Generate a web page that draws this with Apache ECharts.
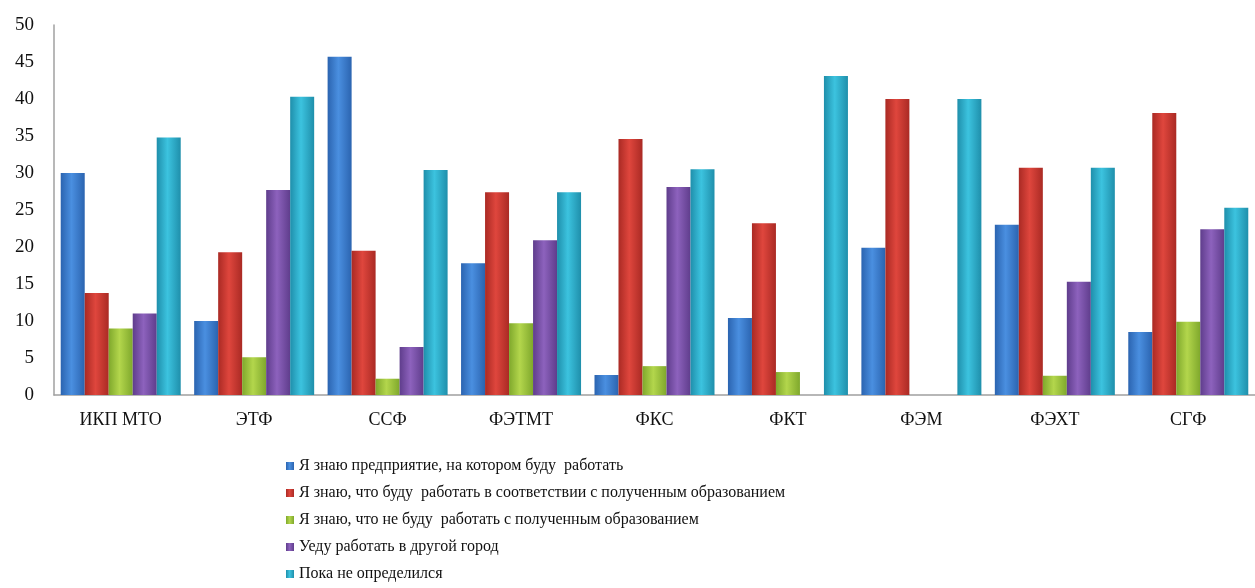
<!DOCTYPE html>
<html>
<head>
<meta charset="utf-8">
<script src="https://cdn.jsdelivr.net/npm/echarts@6/dist/echarts.min.js"></script>
<style>
  html, body { margin: 0; padding: 0; background: #fff; }
</style>
</head>
<body>
<div id="main" style="width: 1255px; height: 588px"></div>
<script>
var categories = ['ИКП МТО', 'ЭТФ', 'ССФ', 'ФЭТМТ', 'ФКС', 'ФКТ', 'ФЭМ', 'ФЭХТ', 'СГФ']
var seriesNames = [
  'Я знаю предприятие, на котором буду  работать',
  'Я знаю, что буду  работать в соответствии с полученным образованием',
  'Я знаю, что не буду  работать с полученным образованием',
  'Уеду работать в другой город',
  'Пока не определился'
]
var knowCompany = [30, 10, 45.7, 17.8, 2.7, 10.4, 19.9, 23.0, 8.5]
var bySpeciality = [13.8, 19.3, 19.5, 27.4, 34.6, 23.2, 40.0, 30.7, 38.1]
var notBySpeciality = [9.0, 5.1, 2.2, 9.7, 3.9, 3.1, 0, 2.6, 9.9]
var otherCity = [11.0, 27.7, 6.5, 20.9, 28.1, 0, 0, 15.3, 22.4]
var undecided = [34.8, 40.3, 30.4, 27.4, 30.5, 43.1, 40.0, 30.7, 25.3]
var yTicks = [0, 50, 5] // min, max, interval

// цвета столбиков: край, середина
var palette = [
  ['#2b64b0', '#4a8fe0'],
  ['#aa2a24', '#df463d'],
  ['#7fa82c', '#b3d64c'],
  ['#5f3d8c', '#8d62bd'],
  ['#1f8fab', '#3cc3df']
]

function barColor(c) {
  return new echarts.graphic.LinearGradient(0, 0, 1, 0, [
    { offset: 0, color: c[0] },
    { offset: 0.45, color: c[1] },
    { offset: 1, color: c[0] }
  ])
}

var allData = [knowCompany, bySpeciality, notBySpeciality, otherCity, undecided]
var series = allData.map(function(d, i) {
  return {
    name: seriesNames[i],
    type: 'bar',
    barWidth: 24,
    barGap: '0%',
    itemStyle: { color: barColor(palette[i]) },
    data: d
  }
})

var myChart = echarts.init(document.getElementById('main'))
var option = {
  animation: false,
  textStyle: { fontFamily: 'Liberation Serif' },
  legend: {
    orient: 'vertical',
    left: 281,
    top: 452,
    height: 200,
    itemWidth: 8,
    itemHeight: 8,
    itemGap: 9,
    icon: 'rect',
    textStyle: { fontSize: 16, color: '#111', lineHeight: 18, fontFamily: 'Liberation Serif' },
    data: seriesNames
  },
  grid: {
    left: 54,
    top: 25,
    width: 1208,
    height: 370
  },
  xAxis: {
    type: 'category',
    data: categories,
    axisLine: { lineStyle: { color: '#a0a0a0', width: 1.5 } },
    axisTick: { show: false },
    axisLabel: { color: '#111', fontSize: 18, margin: 16, fontFamily: 'Liberation Serif' }
  },
  yAxis: {
    type: 'value',
    min: yTicks[0],
    max: yTicks[1],
    interval: yTicks[2],
    axisLine: { show: true, lineStyle: { color: '#a0a0a0', width: 1.5 } },
    axisTick: { show: false },
    splitLine: { show: false },
    axisLabel: { color: '#111', fontSize: 19, margin: 20, fontFamily: 'Liberation Serif' }
  },
  series: series
}
myChart.setOption(option)
</script>
</body>
</html>
